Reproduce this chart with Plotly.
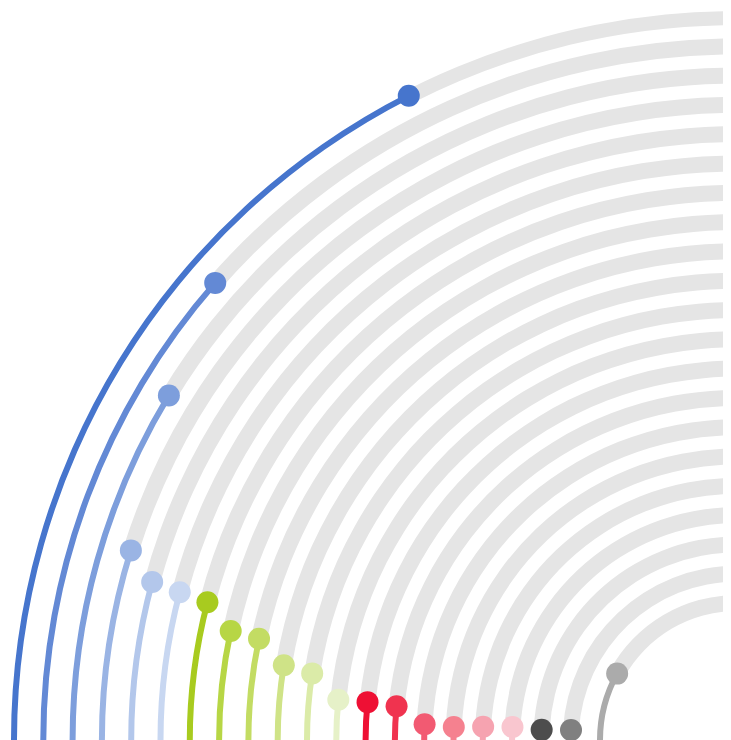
import numpy as np
import plotly.graph_objects as go

# ---- data ----
categories = [f"S{i}" for i in range(1, 22)]
values = [70.0, 45.8, 34.7, 19.3, 16.8, 16.5, 16.2, 13.5, 13.3, 10.4,
          9.9, 6.4, 6.5, 6.3, 3.2, 2.9, 3.3, 3.7, 3.3, 3.8, 32.2]
max_value = 100
colors = ["#4675CD", "#6389D5", "#7D9EDC", "#9AB4E4", "#B3C7EB", "#C8D7F1",
          "#A8CB1F", "#B7D645", "#C3DC63", "#CFE387", "#DBEBA8", "#E6F1C8",
          "#EE1034", "#F0334F", "#F25A72", "#F5818F", "#F6A3B0", "#F9C6CF",
          "#4D4D4D", "#808080", "#ABABAB"]
track_color = "#E5E5E5"

# ---- geometry / styles ----
W, H = 731, 740
cx_px, cy_px = 729, 732          # centre of the rings inside the figure
outer_r = 723.0
step = 29.3
track_w = 16
line_w = 6
dot_size = 22

n = len(values)
radii = np.array([outer_r - step * i for i in range(n)])
deg = np.array(values) / max_value * 90.0

fig = go.Figure()

# remaining part of each ring (gray track)
fig.add_trace(go.Barpolar(
    r=[track_w] * n,
    base=list(radii - track_w / 2),
    theta=list((deg + 90.0) / 2),
    width=list(90.0 - deg),
    marker=dict(color=track_color, line=dict(width=0)),
    hoverinfo="skip",
))

# value part (thin colored arc)
fig.add_trace(go.Barpolar(
    r=[line_w] * n,
    base=list(radii - line_w / 2),
    theta=list(deg / 2),
    width=list(deg),
    marker=dict(color=colors, line=dict(width=0)),
    text=categories,
    hoverinfo="text",
))

# end dots
fig.add_trace(go.Scatterpolar(
    r=list(radii),
    theta=list(deg),
    mode="markers",
    marker=dict(size=dot_size, color=colors, line=dict(width=0)),
    text=[f"{c}: {v}" for c, v in zip(categories, values)],
    hoverinfo="text",
))

side = cx_px  # square polar box whose bottom-right corner is the centre
fig.update_layout(
    width=W, height=H,
    margin=dict(l=0, r=0, t=0, b=0),
    paper_bgcolor="white",
    showlegend=False,
    polar=dict(
        domain=dict(x=[0, side / W], y=[(H - cy_px) / H, (H - cy_px + side) / H]),
        sector=[90, 180],
        bgcolor="white",
        barmode="overlay",
        radialaxis=dict(visible=False, range=[0, side], showgrid=False),
        angularaxis=dict(visible=False, rotation=180, direction="clockwise",
                         showgrid=False),
    ),
)

fig.write_html("out.html")
